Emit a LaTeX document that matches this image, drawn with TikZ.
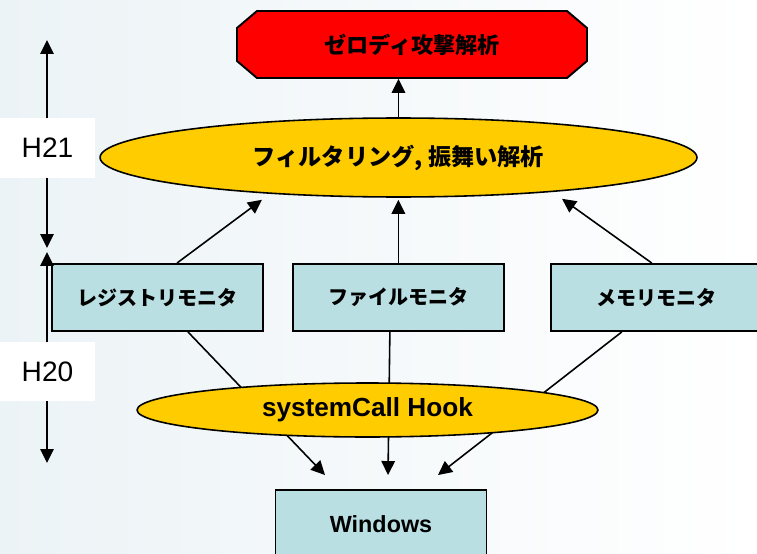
\documentclass[tikz,border=0pt]{standalone}
\usepackage{fontspec}
\setmainfont{Liberation Sans}
\newfontfamily\jpfont{Noto Sans CJK JP}
\usetikzlibrary{arrows.meta,positioning,shapes.geometric,calc}

\definecolor{hookyellow}{RGB}{255,204,0}
\definecolor{monblue}{RGB}{185,223,227}
\definecolor{bgtint}{RGB}{236,243,246}

\begin{document}
\begin{tikzpicture}[
      x=0.02cm, y=-0.02cm,
      >={Triangle[length=0.28cm,width=0.27cm]},
      line width=0.9pt,
      mon/.style  ={rectangle, draw, fill=monblue, line width=1.1pt,
                    minimum width=4.22cm, minimum height=1.34cm,
                    font=\jpfont\bfseries\fontsize{11.4}{13}\selectfont},
      oval/.style ={ellipse, draw, fill=hookyellow, inner sep=0pt},
      era/.style  ={fill=white, minimum width=1.9cm, minimum height=1.2cm,
                    font=\fontsize{16}{19}\selectfont}
    ]

    \shade[use as bounding box, left color=bgtint, right color=white]
          (0,0) rectangle (757,554);

    % octagon for the goal
    \coordinate (goalc) at (412,44.5);
    \filldraw[fill=red, line width=1.1pt]
          ($(goalc)+(-155,-33.5)$) -- ($(goalc)+(155,-33.5)$)
       -- ($(goalc)+(175,-16.5)$)  -- ($(goalc)+(175,16.5)$)
       -- ($(goalc)+(155,33.5)$)   -- ($(goalc)+(-155,33.5)$)
       -- ($(goalc)+(-175,16.5)$)  -- ($(goalc)+(-175,-16.5)$) -- cycle;
    \node[minimum width=7cm, minimum height=1.34cm,
          font=\jpfont\bfseries\fontsize{12.6}{15}\selectfont]
          (goal) at (goalc) {ゼロディ攻撃解析};

    \node[oval, minimum width=11.94cm, minimum height=1.58cm,
          font=\jpfont\bfseries\fontsize{13.2}{15}\selectfont]
          (filt) at (398.5,157.5) {フィルタリング, 振舞い解析};

    \node[mon] (reg) at (157.5,297.5) {レジストリモニタ};
    \node[mon, right=0.56cm of reg] (file) {ファイルモニタ};
    \node[mon, right=0.9cm of file] (mem) {メモリモニタ};

    \node[mon, minimum height=1.36cm,
          font=\bfseries\fontsize{13.3}{16}\selectfont]
          (win) at (381,524) {Windows};

    % hooked calls go down to Windows, behind the hook
    \draw[->] ($(reg.south)+(30.5,0)$) -- ($(win.north)+(-56,-14)$);
    \draw[->] ($(file.south)+(-8.5,0)$) -- ($(win.north)+(7,-14)$);
    \draw[->] ($(mem.south)+(-34.5,0)$) -- ($(win.north)+(57,-14)$);

    \node[oval, minimum width=9.22cm, minimum height=1.08cm,
          font=\bfseries\fontsize{14.9}{17}\selectfont]
          (hook) at (367.5,410) {systemCall Hook};

    \draw[->] ($(reg.north)+(19.5,0)$) -- ($(filt.south)+(-136.5,2)$);
    \draw[->] (file.north) -- ($(file.north |- filt.south)+(0,2)$);
    \draw[->] ($(mem.north)+(-4.5,0)$) -- ($(filt.south)+(163.5,1)$);
    \draw[->] (filt.north) -- (filt.north |- goal.south);

    % fiscal years on the left
    \coordinate (h21top) at (47,40);
    \coordinate (h21bot) at (47,248);
    \coordinate (h20top) at (47,252);
    \coordinate (h20bot) at (47,463);
    \draw[<->] (h21top) -- (h21bot);
    \draw[<->] (h20top) -- (h20bot);
    \node[era] (h21) at (47.5,148) {H21};
    \node[era, minimum height=1.18cm] (h20) at (47.5,371.5) {H20};
\end{tikzpicture}
\end{document}
